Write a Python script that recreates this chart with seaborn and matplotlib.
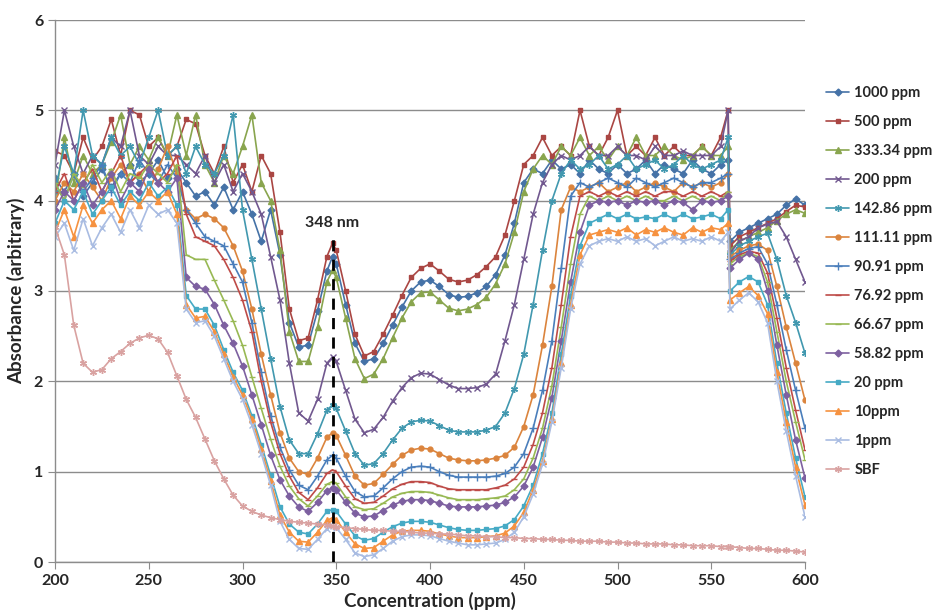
import numpy as np
import pandas as pd
import seaborn as sns
import matplotlib.pyplot as plt

# wavelength grid (nm)
wavelength = [200, 205, 210, 215, 220, 225, 230, 235, 240, 245, 250, 255, 260, 265,
              270, 275, 280, 285, 290, 295, 300, 305, 310, 315, 320, 325, 330, 335, 340, 345,
              348,
              350, 355, 360, 365, 370, 375, 380, 385, 390, 395,
              400, 405, 410, 415, 420, 425, 430, 435, 440, 445,
              450, 455, 460, 465, 470, 475, 480, 485, 490, 495,
              500, 505, 510, 515, 520, 525, 530, 535, 540, 545,
              550, 555, 559,
              560, 565, 570, 575, 580, 585, 590, 595, 600]

a1000 = [4.25, 4.1, 4.3, 4.05, 4.2, 4.35, 4.15, 4.3, 4.4, 4.2, 4.3, 4.45, 4.25, 4.35,
         4.2, 4.05, 4.1, 3.95, 4.15, 3.9, 4.1, 3.85, 3.55, 3.9, 3.4, 2.65, 2.38, 2.4, 2.78, 3.22,
         3.38,
         3.3, 2.85, 2.42, 2.22, 2.25, 2.42, 2.62, 2.82, 3.0, 3.1,
         3.12, 3.05, 2.96, 2.93, 2.94, 2.98, 3.05, 3.18, 3.4, 3.75,
         4.2, 4.35, 4.3, 4.45, 4.35, 4.4, 4.3, 4.45, 4.35, 4.3,
         4.4, 4.3, 4.35, 4.45, 4.3, 4.4, 4.35, 4.3, 4.45, 4.35,
         4.3, 4.4, 4.45,
         3.55, 3.65, 3.7, 3.75, 3.8, 3.85, 3.95, 4.02, 3.95]
a500 = [4.55, 4.5, 4.3, 4.7, 4.45, 4.6, 4.9, 4.5, 5.0, 4.95, 4.6, 4.7, 4.5, 4.6,
        4.9, 4.85, 4.5, 4.3, 4.6, 4.2, 4.4, 4.1, 4.5, 4.3, 3.65, 2.8, 2.45, 2.48, 2.9, 3.38,
        3.53,
        3.45, 3.0, 2.52, 2.28, 2.33, 2.52, 2.73, 2.95, 3.15, 3.25,
        3.3, 3.22, 3.13, 3.1, 3.12, 3.18, 3.27, 3.38, 3.62, 4.0,
        4.4, 4.5, 4.7, 4.5, 4.6, 4.5, 5.0, 4.6, 4.5, 4.7,
        5.0, 4.5, 4.6, 4.5, 4.7, 4.5, 4.6, 4.5, 4.5, 4.6,
        4.5, 4.7, 5.0,
        3.5, 3.6, 3.65, 3.7, 3.75, 3.8, 3.88, 3.95, 3.93]
a333 = [4.0, 4.7, 4.2, 4.5, 4.3, 4.4, 4.65, 4.95, 4.4, 4.6, 4.45, 4.7, 4.5, 4.95,
        4.5, 4.95, 4.4, 4.2, 4.5, 4.3, 4.6, 4.95, 4.2, 4.0, 3.45, 2.55, 2.22, 2.22, 2.6, 3.1,
        3.23,
        3.15, 2.7, 2.25, 2.03, 2.08, 2.25, 2.48, 2.7, 2.88, 2.98,
        2.99, 2.9, 2.81, 2.78, 2.8, 2.85, 2.93, 3.08, 3.3, 3.65,
        4.1, 4.35, 4.5, 4.4, 4.6, 4.5, 4.7, 4.5, 4.6, 4.45,
        4.6, 4.5, 4.7, 4.5, 4.5, 4.6, 4.5, 4.45, 4.5, 4.6,
        4.5, 4.5, 4.6,
        3.45, 3.55, 3.6, 3.65, 3.7, 3.78, 3.85, 3.9, 3.86]
a200 = [4.4, 5.0, 4.6, 4.3, 4.5, 4.4, 4.7, 4.6, 5.0, 4.5, 4.4, 4.6, 4.5, 4.5,
        4.4, 4.3, 4.5, 4.2, 4.4, 4.1, 4.3, 4.1, 3.85, 3.38, 2.9, 2.2, 1.65, 1.56, 1.8, 2.2,
        2.27,
        2.22, 1.9, 1.58, 1.43, 1.47, 1.6, 1.78, 1.93, 2.04, 2.09,
        2.08, 2.02, 1.96, 1.92, 1.92, 1.93, 1.97, 2.08, 2.45, 2.85,
        3.35, 3.85, 4.2, 4.4, 4.5, 4.45, 4.5, 4.6, 4.5, 4.5,
        4.6, 4.5, 4.5, 4.45, 4.6, 4.5, 4.5, 4.55, 4.5, 4.5,
        4.5, 4.6, 5.0,
        3.42, 3.55, 3.6, 3.7, 3.74, 3.77, 3.6, 3.35, 3.1]
a142 = [4.1, 4.6, 4.3, 5.0, 4.5, 4.4, 4.7, 4.5, 4.6, 4.4, 4.7, 5.0, 4.5, 4.6,
        4.3, 4.6, 4.4, 4.3, 4.5, 4.95, 3.9, 3.35, 2.8, 2.25, 1.72, 1.35, 1.2, 1.2, 1.42, 1.68,
        1.74,
        1.7, 1.45, 1.2, 1.07, 1.09, 1.2, 1.35, 1.48, 1.55, 1.57,
        1.56, 1.51, 1.46, 1.44, 1.44, 1.44, 1.46, 1.5, 1.65, 1.92,
        2.3, 2.85, 3.45, 4.0, 4.3, 4.45, 4.35, 4.4, 4.5, 4.35,
        4.4, 4.5, 4.35, 4.4, 4.45, 4.35, 4.4, 4.5, 4.4, 4.35,
        4.4, 4.45, 4.7,
        3.4, 3.5, 3.55, 3.6, 3.64, 3.35, 2.95, 2.65, 2.31]
a111 = [4.0, 4.2, 4.1, 4.3, 4.15, 4.0, 4.25, 4.4, 4.2, 4.3, 4.1, 4.35, 4.6, 4.3,
        3.9, 3.8, 3.85, 3.8, 3.7, 3.5, 3.22, 2.8, 2.3, 1.85, 1.43, 1.15, 1.0, 0.97, 1.15, 1.38,
        1.43,
        1.4, 1.18, 0.95, 0.85, 0.87, 0.97, 1.08, 1.18, 1.24, 1.26,
        1.25, 1.2, 1.15, 1.13, 1.12, 1.12, 1.13, 1.15, 1.18, 1.27,
        1.5, 1.85, 2.4, 3.05, 3.9, 4.15, 4.1, 4.15, 4.2, 4.1,
        4.15, 4.2, 4.1, 4.15, 4.2, 4.15, 4.1, 4.2, 4.15, 4.2,
        4.15, 4.2, 4.3,
        3.38, 3.45, 3.5, 3.52, 3.45, 3.05, 2.6, 2.2, 1.79]
a90 = [4.2, 4.0, 4.3, 4.1, 4.25, 4.4, 4.1, 4.3, 4.2, 4.45, 4.3, 4.2, 4.4, 4.25,
       3.9, 3.75, 3.6, 3.55, 3.5, 3.3, 3.1, 2.65, 2.1, 1.62, 1.27, 1.02, 0.85, 0.8, 0.95, 1.13,
       1.18,
       1.15, 0.95, 0.78, 0.72, 0.73, 0.82, 0.92, 1.0, 1.05, 1.06,
       1.05, 1.0, 0.96, 0.94, 0.94, 0.94, 0.94, 0.95, 0.98, 1.05,
       1.2, 1.48, 1.9, 2.45, 3.25, 4.05, 4.2, 4.15, 4.2, 4.25,
       4.2, 4.15, 4.25, 4.2, 4.15, 4.2, 4.25, 4.2, 4.15, 4.2,
       4.2, 4.25, 4.3,
       3.35, 3.42, 3.47, 3.49, 3.3, 2.85, 2.35, 1.9, 1.48]
a76 = [4.1, 4.3, 4.0, 4.2, 4.35, 4.1, 4.3, 4.5, 4.2, 4.3, 4.4, 4.2, 4.3, 4.5,
       3.85, 3.6, 3.55, 3.5, 3.35, 3.15, 2.9, 2.55, 2.0, 1.55, 1.2, 0.95, 0.77, 0.69, 0.82, 0.98,
       1.02,
       1.0, 0.84, 0.7, 0.65, 0.66, 0.73, 0.81, 0.86, 0.89, 0.89,
       0.88, 0.84, 0.81, 0.8, 0.8, 0.8, 0.8, 0.82, 0.85, 0.92,
       1.05, 1.3, 1.65, 2.15, 2.85, 3.6, 4.05, 4.1, 4.05, 4.1,
       4.05, 4.1, 4.05, 4.1, 4.05, 4.1, 4.1, 4.05, 4.1, 4.05,
       4.1, 4.05, 4.1,
       3.33, 3.4, 3.44, 3.42, 3.2, 2.7, 2.15, 1.68, 1.24]
a66 = [4.2, 4.0, 4.3, 4.15, 4.4, 4.2, 4.35, 4.1, 4.3, 4.25, 4.4, 4.3, 4.2, 4.4,
       3.4, 3.35, 3.35, 3.12, 2.9, 2.67, 2.4, 2.05, 1.7, 1.36, 1.06, 0.84, 0.7, 0.62, 0.73, 0.86,
       0.89,
       0.87, 0.72, 0.61, 0.58, 0.59, 0.65, 0.72, 0.76, 0.78, 0.78,
       0.77, 0.74, 0.71, 0.69, 0.69, 0.69, 0.7, 0.71, 0.73, 0.8,
       0.92, 1.15, 1.48, 1.95, 2.6, 3.3, 3.85, 4.05, 4.0, 4.05,
       4.0, 4.05, 4.0, 4.05, 4.0, 4.0, 4.05, 4.0, 4.05, 4.0,
       4.05, 4.0, 4.1,
       3.3, 3.38, 3.42, 3.38, 3.1, 2.55, 2.0, 1.55, 1.13]
a58 = [3.9, 4.1, 4.0, 4.2, 3.95, 4.1, 4.3, 4.0, 4.2, 4.1, 4.35, 4.2, 4.1, 4.25,
       3.15, 3.05, 3.02, 2.85, 2.62, 2.42, 2.17, 1.85, 1.52, 1.18, 0.91, 0.73, 0.61, 0.56, 0.66, 0.79,
       0.82,
       0.8, 0.66, 0.54, 0.5, 0.51, 0.57, 0.63, 0.67, 0.69, 0.69,
       0.68, 0.65, 0.62, 0.61, 0.61, 0.61, 0.62, 0.63, 0.66, 0.72,
       0.84, 1.05, 1.38, 1.82, 2.45, 3.1, 3.65, 3.95, 4.0, 3.98,
       4.0, 3.95, 4.0, 3.98, 4.0, 3.95, 4.0, 3.98, 3.9, 4.0,
       3.98, 4.0, 4.05,
       3.25, 3.35, 3.42, 3.35, 3.0, 2.4, 1.85, 1.35, 0.93]
a20 = [3.75, 4.0, 3.9, 4.1, 3.85, 4.0, 4.15, 3.95, 4.1, 4.0, 4.2, 4.05, 4.15, 3.95,
       2.95, 2.8, 2.8, 2.62, 2.35, 2.1, 1.9, 1.62, 1.3, 0.96, 0.61, 0.42, 0.33, 0.31, 0.42, 0.56,
       0.58,
       0.56, 0.42, 0.29, 0.24, 0.26, 0.33, 0.39, 0.43, 0.45, 0.45,
       0.44, 0.41, 0.38, 0.36, 0.35, 0.35, 0.36, 0.37, 0.4, 0.47,
       0.62, 0.85, 1.2, 1.65, 2.3, 2.95, 3.5, 3.75, 3.8, 3.85,
       3.8, 3.85, 3.8, 3.82, 3.8, 3.85, 3.8, 3.85, 3.8, 3.82,
       3.85, 3.8, 3.9,
       3.0, 3.1, 3.16, 3.1, 2.85, 2.2, 1.65, 1.15, 0.72]
a10 = [3.65, 3.9, 3.6, 3.95, 3.75, 3.9, 4.0, 3.8, 4.05, 3.95, 4.1, 4.0, 4.1, 3.85,
       2.85, 2.7, 2.72, 2.55, 2.3, 2.05, 1.85, 1.58, 1.25, 0.9, 0.52, 0.33, 0.23, 0.22, 0.33, 0.46,
       0.49,
       0.47, 0.33, 0.2, 0.15, 0.16, 0.23, 0.3, 0.34, 0.35, 0.35,
       0.34, 0.31, 0.29, 0.27, 0.27, 0.27, 0.28, 0.29, 0.32, 0.4,
       0.55, 0.8, 1.12, 1.58, 2.2, 2.85, 3.4, 3.62, 3.65, 3.68,
       3.65, 3.7, 3.62, 3.68, 3.65, 3.7, 3.65, 3.62, 3.7, 3.65,
       3.7, 3.68, 3.75,
       2.9, 2.98, 3.05, 2.95, 2.75, 2.1, 1.55, 1.05, 0.63]
a1 = [3.6, 3.75, 3.45, 3.8, 3.5, 3.7, 3.85, 3.65, 3.9, 3.7, 3.95, 3.85, 3.9, 3.75,
      2.8, 2.65, 2.67, 2.5, 2.25, 2.0, 1.8, 1.52, 1.2, 0.85, 0.45, 0.25, 0.15, 0.14, 0.25, 0.37,
      0.4,
      0.38, 0.25, 0.1, 0.06, 0.08, 0.15, 0.23, 0.28, 0.3, 0.3,
      0.29, 0.26, 0.23, 0.21, 0.19, 0.19, 0.2, 0.21, 0.25, 0.33,
      0.5, 0.75, 1.08, 1.55, 2.15, 2.8, 3.3, 3.5, 3.55, 3.58,
      3.55, 3.6, 3.55, 3.58, 3.5, 3.55, 3.6, 3.55, 3.58, 3.55,
      3.6, 3.55, 3.65,
      2.8, 2.9, 2.98, 2.88, 2.65, 2.0, 1.45, 0.95, 0.5]
sbf = [3.71, 3.4, 2.62, 2.2, 2.1, 2.13, 2.25, 2.33, 2.42, 2.48, 2.51, 2.47, 2.32, 2.06,
       1.8, 1.6, 1.36, 1.12, 0.92, 0.74, 0.62, 0.56, 0.52, 0.49, 0.47, 0.45, 0.44, 0.43, 0.42, 0.41,
       0.4,
       0.39, 0.38, 0.37, 0.36, 0.35, 0.35, 0.34, 0.34, 0.33, 0.32,
       0.32, 0.31, 0.31, 0.3, 0.29, 0.29, 0.28, 0.28, 0.27, 0.27,
       0.26, 0.26, 0.25, 0.25, 0.24, 0.24, 0.23, 0.23, 0.23, 0.22,
       0.22, 0.21, 0.21, 0.2, 0.2, 0.2, 0.19, 0.19, 0.18, 0.18,
       0.18, 0.17, 0.17,
       0.17, 0.16, 0.15, 0.15, 0.14, 0.13, 0.13, 0.12, 0.11]

labels = ['1000 ppm', '500 ppm', '333.34 ppm', '200 ppm', '142.86 ppm', '111.11 ppm',
          '90.91 ppm', '76.92 ppm', '66.67 ppm', '58.82 ppm', '20 ppm', '10ppm', '1ppm', 'SBF']
series = [a1000, a500, a333, a200, a142, a111, a90, a76, a66, a58, a20, a10, a1, sbf]

colors = ['#4572A7', '#AA4643', '#89A54E', '#71588F', '#4198AF', '#DB843D', '#4A7EBB',
          '#BE4B48', '#98B954', '#7D60A0', '#46AAC5', '#F69240', '#A9BCE2', '#D9A2A1']
markers = ['D', 's', '^', 'x', (6, 2, 0), 'o', '+', '_', '_', 'D', 's', '^', 'x', (6, 2, 0)]
msizes = [3.5, 3.5, 4, 4.5, 5, 3.5, 5.5, 4, 4, 3.5, 3.5, 4, 4.5, 5]

peak_nm = 348

sns.set_style('white')
plt.rcParams['font.family'] = ['Lato', 'DejaVu Sans']

fig = plt.figure(figsize=(9.36, 6.15), dpi=100)
ax = fig.add_axes([55 / 936, 53 / 615, 750 / 936, 542 / 615])

for lab, vals, c, m, ms in zip(labels, series, colors, markers, msizes):
    sns.lineplot(x=wavelength, y=vals, ax=ax, color=c, marker=m, markersize=ms,
                 markeredgecolor=c, markerfacecolor=c, markeredgewidth=1.0,
                 linewidth=1.2, label=lab, sort=False)

# dashed marker for the 348 nm peak
i_peak = wavelength.index(peak_nm)
top = max(s[i_peak] for s in series) + 0.1
ax.plot([peak_nm, peak_nm], [0, top], color='black', linestyle=(0, (4, 3)), linewidth=2, zorder=20)
ax.text(peak_nm, top + 0.05, '348 nm', ha='center', va='bottom', fontsize=11.5,
        fontweight='bold', zorder=21)

ax.set_xlim(200, 600)
ax.set_ylim(0, 6)
ax.set_xticks(range(200, 601, 50))
ax.set_yticks(range(0, 7))
ax.yaxis.grid(True, color='#8c8c8c', linewidth=1)
ax.set_axisbelow(True)
for side in ['top', 'right']:
    ax.spines[side].set_visible(False)
for side in ['left', 'bottom']:
    ax.spines[side].set_color('#8c8c8c')
    ax.spines[side].set_linewidth(1)
ax.tick_params(axis='both', which='major', direction='out', length=5, color='#8c8c8c',
               labelsize=11.5, bottom=True, left=True)
for t in ax.get_xticklabels() + ax.get_yticklabels():
    t.set_fontweight('bold')

ax.set_xlabel('Concentration (ppm)', fontsize=13.5, fontweight='bold', labelpad=3)
ax.set_ylabel('Absorbance (arbitrary)', fontsize=13.5, fontweight='bold', labelpad=6)

handles, labs = ax.get_legend_handles_labels()
ax.get_legend().remove()
fig.legend(handles, labs, loc='upper left', bbox_to_anchor=(820 / 936, 1 - 80 / 615),
           frameon=False, prop={'weight': 'bold', 'size': 10.5}, labelspacing=1.03,
           handlelength=1.6, handletextpad=0.35, borderaxespad=0)

fig.savefig('out.png', dpi=100)
